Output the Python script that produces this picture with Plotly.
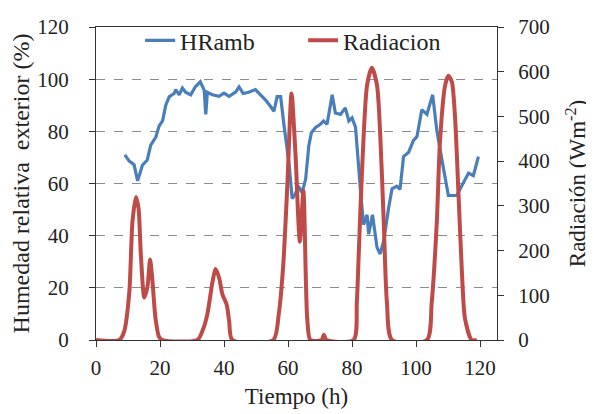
import plotly.graph_objects as go

# Humedad relativa exterior (%)
hr_time = [9, 10.4, 11.9, 13, 14.5, 16, 17.1, 18.7, 19.7, 20.8, 21.8, 22.9, 24.4, 24.9, 26, 27, 28, 29.6, 31, 32.6,
           33.8, 34.3, 34.8, 36.4, 38.4, 40, 41.6, 43.6, 44.7, 46, 47.7, 49.8, 51.4, 53, 54.5, 55.6, 56.6, 57.7, 58.7,
           60.3, 61.3, 62.3, 63.2, 64.4, 65.5, 66.5, 67.3, 68.6, 70.1, 71.1, 72.2, 73.8, 74.8, 76.4, 77.9, 79, 80,
           81.1, 82.6, 83.6, 84.7, 85.2, 86.4, 87.8, 88.8, 89.9, 91.4, 92.5, 94, 95, 96.1, 97.7, 99.2, 100.3, 101.8,
           103.4, 105.2, 106.5, 108.1, 110.1, 112.7, 114.8, 116.4, 117.9, 119.5]
hr_vals = [71, 68.6, 67.2, 61, 67, 69, 74.7, 77.8, 82, 84, 90, 93.3, 94.5, 96, 94, 96.6, 95, 94, 97, 99,
           95.8, 86.5, 95, 94, 93.4, 94.6, 93.4, 95, 97, 94.5, 95, 96, 94, 92, 89.6, 87.7, 93.3, 93.3, 82.7,
           67.8, 54.2, 56, 59, 56.5, 61.6, 74.5, 79.5, 81.5, 82.7, 84, 82.7, 94, 87, 86.5, 89, 84, 85.2,
           81.5, 57.9, 44.2, 48, 40.6, 48, 35.5, 33, 38, 50.4, 58, 59, 57.8, 70.3, 72, 76.5, 78, 88.3,
           86.5, 94, 80.3, 69, 55.4, 55.4, 60.4, 64, 63, 70.3]

# Radiacion (W m-2)
rad_time = [0, 7.3, 8.8, 10.4, 11.4, 12.5, 13.3, 14, 15.1, 16.1, 16.9, 17.6, 18.6, 19.7, 20.8,
            31.7, 33.5, 34.8, 36.4, 37.4, 38.5, 39.5, 40.8, 41.6, 42.6,
            55.4, 57.1, 58.5, 59.8, 61.1, 62.3, 63.7, 64.8, 66, 67, 70.5, 71.2, 72,
            80.5, 81.5, 82.1, 83.1, 84.7, 86.2, 87.8, 88.8, 89.9, 90.9, 92.5,
            103.4, 104.9, 106.5, 107.5, 109.1, 110.1, 111.2, 112.2, 113.2, 114.3, 115.3, 117.4, 119]
rad_vals = [0, 0, 19, 106, 265, 320, 294, 193, 95, 120, 180, 135, 48, 7, 0,
            0, 25, 58, 130, 159, 138, 102, 80, 43, 0,
            0, 58, 167, 348, 551, 420, 220, 333, 48, 0, 0, 12, 0,
            0, 85, 193, 374, 570, 609, 570, 461, 265, 84, 0,
            0, 84, 265, 446, 570, 591, 577, 497, 338, 157, 48, 0, 0]

x_ticks = [0, 20, 40, 60, 80, 100, 120]
y_ticks = [0, 20, 40, 60, 80, 100, 120]
y2_ticks = [0, 100, 200, 300, 400, 500, 600, 700]

FONT = "Liberation Serif, Times New Roman, serif"

fig = go.Figure()
fig.add_trace(go.Scatter(x=hr_time, y=hr_vals, name="HRamb", mode="lines",
                         line=dict(color="#4A7EBB", width=3.2)))
fig.add_trace(go.Scatter(x=rad_time, y=rad_vals, name="Radiacion", mode="lines", yaxis="y2",
                         line=dict(color="#BE4B48", width=4, shape="spline", smoothing=0.7)))

axis_common = dict(showline=True, linecolor="#333", linewidth=1.2, ticks="outside", ticklen=6,
                   tickcolor="#333", tickfont=dict(family=FONT, size=21, color="#222"), zeroline=False,
                   automargin=False)

fig.update_layout(
    width=594, height=414,
    margin=dict(l=88, r=105, t=10, b=82),
    paper_bgcolor="white", plot_bgcolor="white",
    font=dict(family=FONT, color="#222"),
    showlegend=True,
    legend=dict(orientation="h", x=0.11, y=1.028, xanchor="left", yanchor="top",
                font=dict(family=FONT, size=24, color="#222"), bgcolor="rgba(0,0,0,0)",
                entrywidth=118, entrywidthmode="pixels", tracegroupgap=0),
    xaxis=dict(range=[0, 125.3], tickvals=x_ticks, showgrid=False, mirror=True, ticklabelstandoff=3,
               title=dict(text="Tiempo (h)", font=dict(family=FONT, size=23), standoff=8),
               **axis_common),
    yaxis=dict(range=[0, 120], tickvals=y_ticks, showgrid=True, gridcolor="#8c8c8c",
               griddash="dash", gridwidth=1, ticklabelstandoff=16,
               title=dict(text="Humedad relativa  exterior (%)", font=dict(family=FONT, size=24), standoff=2),
               **axis_common),
    yaxis2=dict(range=[0, 700], tickvals=y2_ticks, overlaying="y", side="right", showgrid=False,
                ticklabelstandoff=10,
                title=dict(text="Radiación (Wm<sup>-2</sup>)", font=dict(family=FONT, size=23), standoff=20),
                **axis_common),
)

fig.write_html("out.html")
